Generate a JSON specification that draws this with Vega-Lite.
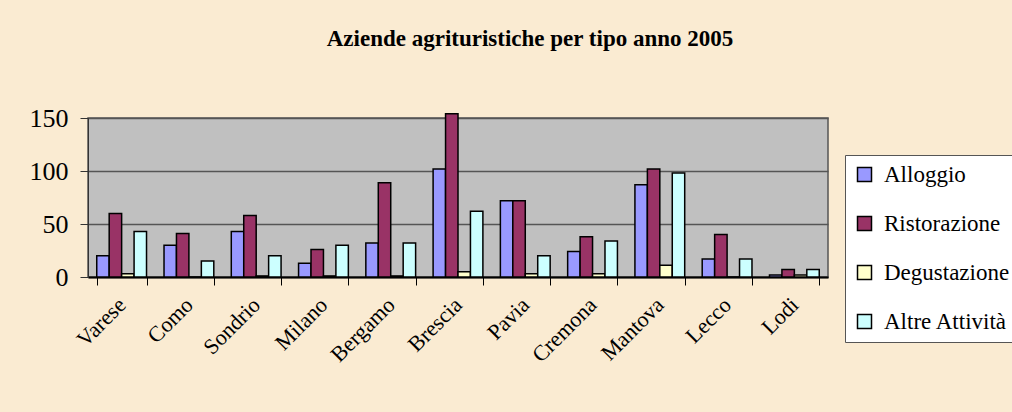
{
  "$schema": "https://vega.github.io/schema/vega-lite/v6.json",
  "width": 740,
  "height": 159,
  "autosize": {"type": "none"},
  "padding": {"left": 88, "top": 118, "right": 184, "bottom": 135},
  "background": "#FAEBD2",
  "title": {"text": "Aziende agrituristiche per tipo anno 2005", "font": "Liberation Serif", "fontSize": 23, "fontWeight": "bold", "color": "#000000", "anchor": "middle", "dx": 72, "offset": 54},
  "data": {"values": [
    {"provincia": "Varese", "tipo": "Alloggio", "valore": 20},
    {"provincia": "Varese", "tipo": "Ristorazione", "valore": 60},
    {"provincia": "Varese", "tipo": "Degustazione", "valore": 3},
    {"provincia": "Varese", "tipo": "Altre Attività", "valore": 43},
    {"provincia": "Como", "tipo": "Alloggio", "valore": 30},
    {"provincia": "Como", "tipo": "Ristorazione", "valore": 41},
    {"provincia": "Como", "tipo": "Degustazione", "valore": 0},
    {"provincia": "Como", "tipo": "Altre Attività", "valore": 15},
    {"provincia": "Sondrio", "tipo": "Alloggio", "valore": 43},
    {"provincia": "Sondrio", "tipo": "Ristorazione", "valore": 58},
    {"provincia": "Sondrio", "tipo": "Degustazione", "valore": 1},
    {"provincia": "Sondrio", "tipo": "Altre Attività", "valore": 20},
    {"provincia": "Milano", "tipo": "Alloggio", "valore": 13},
    {"provincia": "Milano", "tipo": "Ristorazione", "valore": 26},
    {"provincia": "Milano", "tipo": "Degustazione", "valore": 1},
    {"provincia": "Milano", "tipo": "Altre Attività", "valore": 30},
    {"provincia": "Bergamo", "tipo": "Alloggio", "valore": 32},
    {"provincia": "Bergamo", "tipo": "Ristorazione", "valore": 89},
    {"provincia": "Bergamo", "tipo": "Degustazione", "valore": 1},
    {"provincia": "Bergamo", "tipo": "Altre Attività", "valore": 32},
    {"provincia": "Brescia", "tipo": "Alloggio", "valore": 102},
    {"provincia": "Brescia", "tipo": "Ristorazione", "valore": 154},
    {"provincia": "Brescia", "tipo": "Degustazione", "valore": 5},
    {"provincia": "Brescia", "tipo": "Altre Attività", "valore": 62},
    {"provincia": "Pavia", "tipo": "Alloggio", "valore": 72},
    {"provincia": "Pavia", "tipo": "Ristorazione", "valore": 72},
    {"provincia": "Pavia", "tipo": "Degustazione", "valore": 3},
    {"provincia": "Pavia", "tipo": "Altre Attività", "valore": 20},
    {"provincia": "Cremona", "tipo": "Alloggio", "valore": 24},
    {"provincia": "Cremona", "tipo": "Ristorazione", "valore": 38},
    {"provincia": "Cremona", "tipo": "Degustazione", "valore": 3},
    {"provincia": "Cremona", "tipo": "Altre Attività", "valore": 34},
    {"provincia": "Mantova", "tipo": "Alloggio", "valore": 87},
    {"provincia": "Mantova", "tipo": "Ristorazione", "valore": 102},
    {"provincia": "Mantova", "tipo": "Degustazione", "valore": 11},
    {"provincia": "Mantova", "tipo": "Altre Attività", "valore": 98},
    {"provincia": "Lecco", "tipo": "Alloggio", "valore": 17},
    {"provincia": "Lecco", "tipo": "Ristorazione", "valore": 40},
    {"provincia": "Lecco", "tipo": "Degustazione", "valore": 0},
    {"provincia": "Lecco", "tipo": "Altre Attività", "valore": 17},
    {"provincia": "Lodi", "tipo": "Alloggio", "valore": 2},
    {"provincia": "Lodi", "tipo": "Ristorazione", "valore": 7},
    {"provincia": "Lodi", "tipo": "Degustazione", "valore": 2},
    {"provincia": "Lodi", "tipo": "Altre Attività", "valore": 7}
  ]},
  "mark": {"type": "bar", "stroke": "#000000", "strokeWidth": 1.5},
  "encoding": {
    "x": {
      "field": "provincia", "type": "nominal", "sort": null,
      "scale": {"paddingInner": 0.26, "paddingOuter": 0.13},
      "axis": {"title": null, "labelAngle": -45, "labelBaseline": "middle", "labelFont": "Liberation Serif", "labelFontSize": 22, "labelColor": "#000000", "tickBand": "extent", "tickSize": 8, "tickColor": "#000000", "domainColor": "#000000", "domainWidth": 2, "labelPadding": 16, "grid": false}
    },
    "xOffset": {
      "field": "tipo", "type": "nominal",
      "sort": ["Alloggio", "Ristorazione", "Degustazione", "Altre Attività"],
      "scale": {"paddingInner": 0, "paddingOuter": 0}
    },
    "y": {
      "field": "valore", "type": "quantitative",
      "scale": {"domain": [0, 150], "nice": false},
      "axis": {"title": null, "values": [0, 50, 100, 150], "labelFont": "Liberation Serif", "labelFontSize": 26, "labelColor": "#000000", "tickSize": 8, "tickColor": "#333333", "domainColor": "#333333", "gridColor": "#555555", "gridWidth": 1.5, "labelPadding": 12}
    },
    "color": {
      "field": "tipo", "type": "nominal",
      "sort": ["Alloggio", "Ristorazione", "Degustazione", "Altre Attività"],
      "scale": {"domain": ["Alloggio", "Ristorazione", "Degustazione", "Altre Attività"], "range": ["#9999FF", "#993366", "#FFFFCC", "#CCFFFF"]},
      "legend": {"title": null, "orient": "none", "legendX": 757, "legendY": 37, "padding": 8, "fillColor": "#FFFFFF", "strokeColor": "#555555", "symbolType": "square", "symbolSize": 196, "symbolStrokeColor": "#000000", "symbolStrokeWidth": 1.5, "symbolOpacity": 1, "labelFont": "Liberation Serif", "labelFontSize": 23, "labelColor": "#000000", "labelOffset": 8, "rowPadding": 25, "labelLimit": 300}
    }
  },
  "config": {
    "font": "Liberation Serif",
    "legend": {"labelFont": "Liberation Serif"},
    "view": {"fill": "#C0C0C0", "stroke": "#555555", "strokeWidth": 1.5}
  }
}
